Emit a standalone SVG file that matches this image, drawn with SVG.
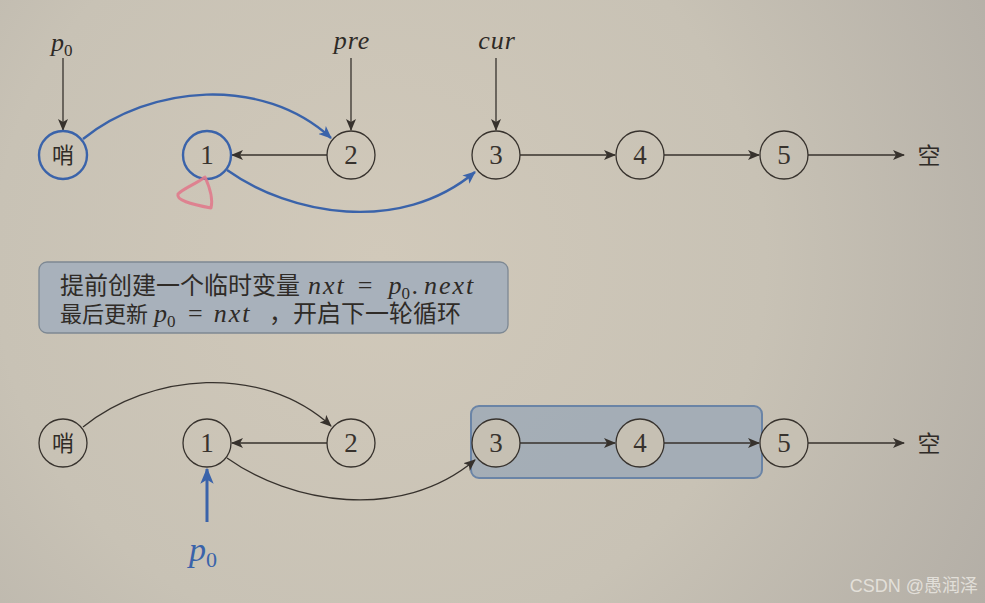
<svg xmlns="http://www.w3.org/2000/svg" width="985" height="603" viewBox="0 0 985 603">
<defs>
  <radialGradient id="bg" cx="380" cy="260" r="700" gradientUnits="userSpaceOnUse">
    <stop offset="0" stop-color="#d1c9ba"/>
    <stop offset="0.55" stop-color="#c8c2b5"/>
    <stop offset="1" stop-color="#b3aea6"/>
  </radialGradient>
  <marker id="ad" viewBox="0 0 12 10" refX="11" refY="5" markerWidth="12" markerHeight="10" markerUnits="userSpaceOnUse" orient="auto">
    <path d="M0,0 L12,5 L0,10 L3,5 z" fill="#37322d"/>
  </marker>
  <marker id="ab" viewBox="0 0 12 10" refX="11" refY="5" markerWidth="13" markerHeight="11" markerUnits="userSpaceOnUse" orient="auto">
    <path d="M0,0 L12,5 L0,10 L3,5 z" fill="#3a63aa"/>
  </marker>
  <marker id="ab2" viewBox="0 0 12 10" refX="11" refY="5" markerWidth="16" markerHeight="14" markerUnits="userSpaceOnUse" orient="auto">
    <path d="M0,0 L12,5 L0,10 L3,5 z" fill="#3a63aa"/>
  </marker>
  <style>
    .node{fill:none;stroke:#37322d;stroke-width:1.3}
    .nodeb{fill:none;stroke:#3a63aa;stroke-width:2.4}
    .nodef{fill:#c6c0b3;stroke:#37322d;stroke-width:1.3}
    .num{font-family:"Liberation Serif","DejaVu Serif",serif;font-size:27px;fill:#37322d;text-anchor:middle}
    .cjk{font-family:"Noto Sans CJK SC","Noto Sans",sans-serif;fill:#2f2b27}
    .mt{font-family:"Liberation Serif","DejaVu Serif",serif;fill:#2e2a26;font-size:26px}
    .it{font-style:italic}
    .sub{font-size:17px;font-style:normal}
    .ln{fill:none;stroke:#37322d;stroke-width:1.3}
    .lb{fill:none;stroke:#3a63aa;stroke-width:2.4}
  </style>
</defs>
<rect x="0" y="0" width="985" height="603" fill="url(#bg)"/>

<!-- highlight box (bottom row) -->
<g id="highlight">
  <rect x="471" y="406" width="291" height="72" rx="8" fill="#9ea9b6" fill-opacity="0.85" stroke="#6a84a6" stroke-width="2"/>
</g>

<!-- info box -->
<g id="note">
  <rect x="39" y="262" width="469" height="71" rx="8" fill="#a8b1bb" stroke="#7d8893" stroke-width="1.3"/>
  <text class="cjk" x="60" y="294" font-size="24">提前创建一个临时变量</text>
  <text class="mt" x="308" y="294"><tspan class="it" letter-spacing="2">nxt</tspan><tspan dx="12">=</tspan><tspan class="it" dx="16">p</tspan><tspan class="sub" dy="5">0</tspan><tspan dx="1.5" dy="-5">.</tspan><tspan class="it" dx="6" letter-spacing="2">next</tspan></text>

  <text class="cjk" x="60" y="322" font-size="22">最后更新</text>
  <text class="mt" x="154" y="322"><tspan class="it">p</tspan><tspan class="sub" dy="5">0</tspan><tspan dx="12.5" dy="-5">=</tspan><tspan class="it" dx="11" letter-spacing="2">nxt</tspan></text>
  <text class="cjk" x="269" y="322" font-size="24">，开启下一轮循环</text>
</g>

<!-- connectors -->
<g id="connectors">
  <!-- top row -->
  <line class="ln" x1="63" y1="58" x2="63" y2="130" marker-end="url(#ad)"/>
  <line class="ln" x1="351" y1="58" x2="351" y2="130" marker-end="url(#ad)"/>
  <line class="ln" x1="496" y1="58" x2="496" y2="130" marker-end="url(#ad)"/>
  <line class="ln" x1="327" y1="155" x2="232" y2="155" marker-end="url(#ad)"/>
  <line class="ln" x1="520" y1="155" x2="615" y2="155" marker-end="url(#ad)"/>
  <line class="ln" x1="664" y1="155" x2="759" y2="155" marker-end="url(#ad)"/>
  <line class="ln" x1="808" y1="155" x2="904" y2="155" marker-end="url(#ad)"/>
  <path class="lb" d="M83,139 C150,85 262,75 331,138" marker-end="url(#ab)"/>
  <path class="lb" d="M227,170 C290,215 400,235 475,172" marker-end="url(#ab)"/>
  <!-- bottom row -->
  <line class="ln" x1="327" y1="443" x2="232" y2="443" marker-end="url(#ad)"/>
  <line class="ln" x1="520" y1="443" x2="615" y2="443" marker-end="url(#ad)"/>
  <line class="ln" x1="664" y1="443" x2="759" y2="443" marker-end="url(#ad)"/>
  <line class="ln" x1="808" y1="443" x2="904" y2="443" marker-end="url(#ad)"/>
  <path class="ln" d="M83,427 C150,373 262,363 331,426" marker-end="url(#ad)"/>
  <path class="ln" d="M227,458 C290,503 400,523 475,460" marker-end="url(#ad)"/>
  <line x1="207" y1="522" x2="207" y2="469" stroke="#3a63aa" stroke-width="3" marker-end="url(#ab2)"/>
</g>

<!-- top row nodes -->
<g id="t_sentinel"><circle class="nodeb" cx="63" cy="155" r="24"/><text class="cjk" x="63" y="163" font-size="22" text-anchor="middle">哨</text></g>
<g id="t_n1"><circle class="nodeb" cx="207" cy="155" r="24"/><text class="num" x="207" y="164">1</text></g>
<g id="t_n2"><circle class="node" cx="351" cy="155" r="24"/><text class="num" x="351" y="164">2</text></g>
<g id="t_n3"><circle class="node" cx="496" cy="155" r="24"/><text class="num" x="496" y="164">3</text></g>
<g id="t_n4"><circle class="node" cx="640" cy="155" r="24"/><text class="num" x="640" y="164">4</text></g>
<g id="t_n5"><circle class="node" cx="784" cy="155" r="24"/><text class="num" x="784" y="164">5</text></g>
<g id="t_null"><text class="cjk" x="929" y="164" font-size="23" text-anchor="middle">空</text></g>

<!-- top labels -->
<g id="lbl_p0_top"><text class="mt" x="51" y="51"><tspan class="it">p</tspan><tspan class="sub" dy="5">0</tspan></text></g>
<g id="lbl_pre"><text class="mt it" x="352" y="49" text-anchor="middle" letter-spacing="1">pre</text></g>
<g id="lbl_cur"><text class="mt it" x="497" y="49" text-anchor="middle" letter-spacing="1">cur</text></g>

<!-- pink annotation -->
<g id="pink_mark">
  <path d="M205,177 C196,184 184,188 178,194 C176,200 190,204 211,208 C213,200 210,188 205,177 Z" fill="none" stroke="#e07a8c" stroke-width="3" stroke-linejoin="round" stroke-linecap="round" opacity="0.9"/>
</g>

<!-- bottom row nodes -->
<g id="b_sentinel"><circle class="node" cx="63" cy="443" r="24"/><text class="cjk" x="63" y="451" font-size="22" text-anchor="middle">哨</text></g>
<g id="b_n1"><circle class="node" cx="207" cy="443" r="24"/><text class="num" x="207" y="452">1</text></g>
<g id="b_n2"><circle class="node" cx="351" cy="443" r="24"/><text class="num" x="351" y="452">2</text></g>
<g id="b_n3"><circle class="nodef" cx="496" cy="443" r="24"/><text class="num" x="496" y="452">3</text></g>
<g id="b_n4"><circle class="nodef" cx="640" cy="443" r="24"/><text class="num" x="640" y="452">4</text></g>
<g id="b_n5"><circle class="nodef" cx="784" cy="443" r="24"/><text class="num" x="784" y="452">5</text></g>
<g id="b_null"><text class="cjk" x="929" y="452" font-size="23" text-anchor="middle">空</text></g>

<g id="lbl_p0_bottom"><text class="mt" x="189" y="561" style="font-size:34px;fill:#3a63aa"><tspan class="it">p</tspan><tspan dy="6" style="font-size:22px">0</tspan></text></g>

<g id="watermark"><text x="978" y="592" font-family="'Liberation Sans','Noto Sans CJK SC',sans-serif" font-size="18" fill="#ebe8e2" fill-opacity="0.85" text-anchor="end">CSDN @愚润泽</text></g>
</svg>
